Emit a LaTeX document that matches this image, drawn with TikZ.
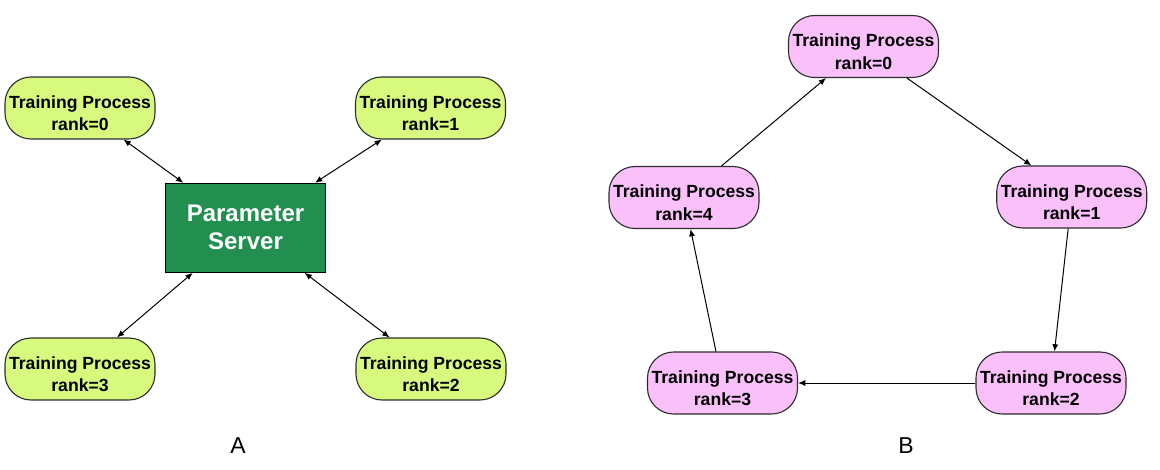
\documentclass[tikz,border=0pt]{standalone}
\usepackage{fontspec}
\setmainfont{Liberation Sans}
\usetikzlibrary{arrows.meta}
\definecolor{limefill}{RGB}{215,249,126}
\definecolor{pinkfill}{RGB}{250,192,250}
\definecolor{serverfill}{RGB}{34,143,80}
\definecolor{rimgray}{RGB}{45,45,45}
\newcommand{\trainlabel}[1]{\rule{0pt}{11.5pt}Training Process\\rank=#1}
\begin{document}
\begin{tikzpicture}[x=0.5pt,y=-0.5pt,
    proc/.style={draw=rimgray,line width=0.55pt,rounded corners=13pt,
        minimum width=75pt,minimum height=31pt,inner sep=0pt,align=center,
        font=\fontsize{8.8pt}{11.4pt}\selectfont\bfseries},
    worker/.style={proc,fill=limefill},
    ringproc/.style={proc,fill=pinkfill},
    server/.style={draw=black,line width=0.55pt,fill=serverfill,text=white,
        minimum width=80pt,minimum height=44.5pt,inner sep=0pt,align=center,
        font=\fontsize{12pt}{14pt}\selectfont\bfseries},
    caption/.style={font=\fontsize{11.5pt}{13pt}\selectfont},
    >={Latex[length=3.6pt,width=3pt]},line width=0.5pt]
    \useasboundingbox (0,0) rectangle (1160,470);

    % A: parameter server
    \node[server] (PS) at (245.5,227.8) {Parameter\\Server};
    \node[worker] (A0) at (80,108) {\trainlabel{0}};
    \node[worker] (A1) at (430.5,108) {\trainlabel{1}};
    \node[worker] (A2) at (431,369) {\trainlabel{2}};
    \node[worker] (A3) at (80,369) {\trainlabel{3}};
    \node[caption] (LA) at (238,446) {A};

    % B: ring
    \node[ringproc] (B0) at (863.5,46.5) {\trainlabel{0}};
    \node[ringproc] (B1) at (1071.7,197) {\trainlabel{1}};
    \node[ringproc] (B2) at (1051,383) {\trainlabel{2}};
    \node[ringproc] (B3) at (722.5,383) {\trainlabel{3}};
    \node[ringproc] (B4) at (684,197.5) {\trainlabel{4}};
    \node[caption] (LB) at (906,446) {B};

    \path
    (A0) edge[<->] (PS)
    (A1) edge[<->] (PS)
    (A2) edge[<->] (PS)
    (A3) edge[<->] (PS)
    (B0.-36) edge[->] (B1.142)
    (B1) edge[->] (B2)
    (B2) edge[->] (B3)
    (B3) edge[->] (B4)
    (B4) edge[->] (B0);
\end{tikzpicture}
\end{document}
